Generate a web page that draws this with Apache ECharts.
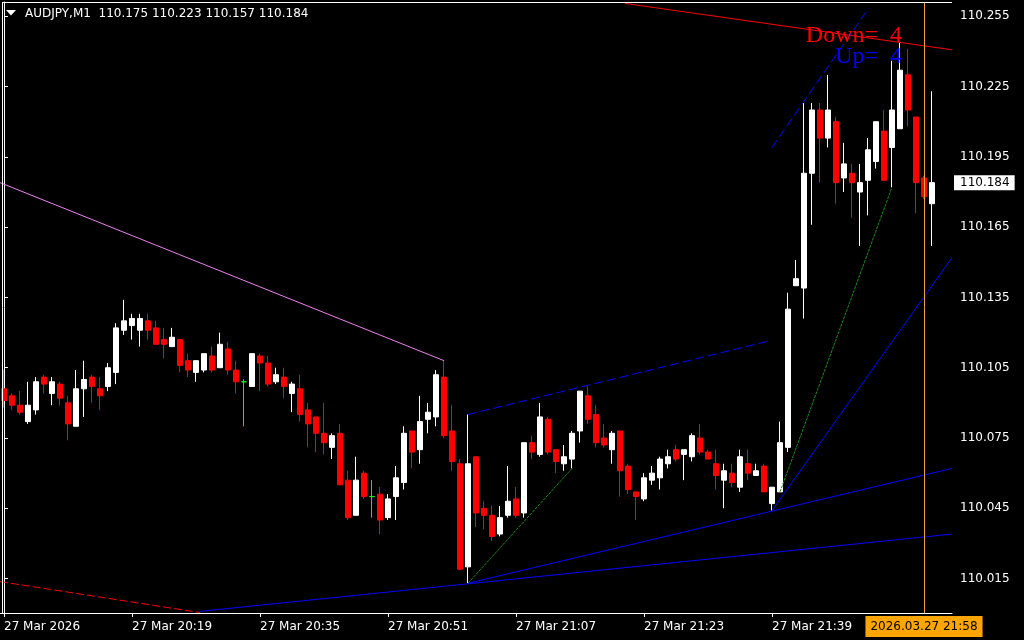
<!DOCTYPE html>
<html>
<head>
<meta charset="utf-8">
<script src="https://cdn.jsdelivr.net/npm/echarts@6/dist/echarts.min.js"></script>
<style>
html,body{margin:0;padding:0;background:#000;}
#chart{width:1024px;height:640px;}
</style>
</head>
<body>
<div id="chart"></div>
<script>
// ---------- data ----------
const symbolName = 'AUDJPY,M1';
const startMinute = 20 * 60 + 3;   // first bar 20:03
const slotCount = 119;             // bars + empty right margin

const opens = [
 110.096,110.093,110.089,110.082,110.087,110.101,110.094,110.098,110.090,110.080,
 110.096,110.101,110.096,110.097,110.103,110.121,110.123,110.121,110.125,110.122,
 110.117,110.114,110.117,110.108,110.103,110.104,110.110,110.105,110.113,110.104,
 110.099,110.097,110.110,110.107,110.099,110.101,110.094,110.096,110.087,110.084,
 110.077,110.071,110.077,110.057,110.042,110.060,110.050,110.051,110.041,110.050,
 110.056,110.078,110.070,110.083,110.084,110.101,110.078,110.064,110.020,110.067,
 110.045,110.042,110.034,110.042,110.049,110.043,110.073,110.068,110.083,110.070,
 110.064,110.066,110.078,110.093,110.085,110.075,110.070,110.078,110.063,110.052,
 110.049,110.057,110.058,110.064,110.070,110.068,110.067,110.075,110.069,110.064,
 110.057,110.060,110.054,110.064,110.059,110.063,110.047,110.052,110.071,110.140,
 110.139,110.188,110.215,110.203,110.210,110.186,110.188,110.180,110.185,110.193,
 110.206,110.199,110.207,110.230,110.212,110.186,110.175
];
const closes = [
 110.091,110.089,110.086,110.089,110.099,110.098,110.099,110.092,110.081,110.096,
 110.100,110.097,110.093,110.105,110.122,110.125,110.126,110.126,110.121,110.115,
 110.115,110.118,110.106,110.104,110.108,110.111,110.104,110.115,110.104,110.099,
 110.099,110.111,110.107,110.098,110.102,110.097,110.098,110.085,110.081,110.077,
 110.073,110.076,110.055,110.041,110.057,110.050,110.050,110.040,110.049,110.058,
 110.077,110.069,110.082,110.086,110.102,110.076,110.065,110.019,110.064,110.043,
 110.042,110.033,110.041,110.048,110.042,110.073,110.069,110.084,110.069,110.065,
 110.067,110.077,110.095,110.083,110.073,110.072,110.077,110.061,110.053,110.050,
 110.058,110.060,110.066,110.067,110.066,110.070,110.076,110.069,110.066,110.059,
 110.061,110.056,110.067,110.060,110.061,110.052,110.054,110.073,110.130,110.143,
 110.188,110.215,110.203,110.215,110.184,110.192,110.184,110.184,110.198,110.210,
 110.185,110.215,110.232,110.215,110.184,110.178,110.184
];
const lows = [
 110.088,110.087,110.085,110.081,110.085,110.094,110.089,110.089,110.074,110.080,
 110.084,110.090,110.087,110.095,110.098,110.119,110.117,110.114,110.117,110.115,
 110.109,110.114,110.103,110.101,110.099,110.103,110.103,110.105,110.102,110.094,
 110.080,110.097,110.095,110.097,110.098,110.092,110.086,110.082,110.071,110.069,
 110.068,110.066,110.055,110.040,110.042,110.049,110.041,110.034,110.040,110.040,
 110.053,110.062,110.064,110.077,110.080,110.075,110.061,110.019,110.013,110.037,
 110.036,110.031,110.033,110.041,110.041,110.041,110.066,110.067,110.068,110.060,
 110.061,110.062,110.073,110.081,110.071,110.071,110.064,110.050,110.051,110.040,
 110.048,110.055,110.053,110.062,110.065,110.057,110.065,110.068,110.066,110.053,
 110.045,110.054,110.052,110.057,110.059,110.052,110.044,110.052,110.069,110.140,
 110.126,110.166,110.184,110.199,110.175,110.180,110.169,110.157,110.170,110.190,
 110.185,110.182,110.207,110.208,110.171,110.177,110.157
];
const highs = [
 110.104,110.094,110.095,110.099,110.101,110.102,110.101,110.099,110.093,110.104,
 110.108,110.102,110.101,110.107,110.124,110.134,110.128,110.128,110.128,110.125,
 110.122,110.122,110.117,110.111,110.108,110.111,110.114,110.120,110.116,110.108,
 110.100,110.111,110.111,110.110,110.105,110.105,110.099,110.102,110.090,110.084,
 110.090,110.077,110.081,110.061,110.067,110.061,110.057,110.054,110.051,110.063,
 110.080,110.078,110.093,110.090,110.104,110.108,110.089,110.066,110.085,110.067,
 110.048,110.046,110.046,110.063,110.054,110.073,110.076,110.090,110.084,110.070,
 110.072,110.078,110.095,110.097,110.089,110.081,110.078,110.078,110.064,110.052,
 110.060,110.063,110.067,110.070,110.072,110.070,110.077,110.081,110.070,110.070,
 110.064,110.064,110.070,110.070,110.064,110.064,110.054,110.082,110.137,110.151,
 110.218,110.218,110.218,110.230,110.212,110.201,110.192,110.192,110.203,110.210,
 110.215,110.236,110.244,110.241,110.212,110.187,110.223
];

// time axis tick labels (bar index -> text)
const timeTickIdx = [0, 16, 32, 48, 64, 80, 96];
const timeTickLabels = ['27 Mar 2026','27 Mar 20:19','27 Mar 20:35','27 Mar 20:51','27 Mar 21:07','27 Mar 21:23','27 Mar 21:39'];
// price axis tick labels
const priceTicks = [110.015,110.045,110.075,110.105,110.135,110.165,110.195,110.225,110.255];
const priceMin = 110.0003, priceMax = 110.2611;

// vertical line object
const vlineIdx = 115;
const vlineLabel = '2026.03.27 21:58';

// indicator counters
const downCount = 4, upCount = 4;

// trend lines: [bar index, price]
const trendPink     = [[-0.5, 110.184], [55, 110.108]];
const trendRedTop   = [[77.6, 110.2605], [118.5, 110.2407]];
const trendRedLow   = [[-0.5, 110.0137], [24.5, 110.0005]];
const fanLow        = [[24.5, 110.001], [118.5, 110.034]];
const fanMid        = [[58, 110.013], [118.5, 110.062]];
const fanSteep      = [[96, 110.044], [118.5, 110.152]];
const channelMid    = [[58, 110.085], [95.75, 110.1165]];
const channelSteep  = [[96, 110.199], [108, 110.258]];
const greenA        = [[58, 110.013], [71, 110.062]];
const greenB        = [[97, 110.052], [111, 110.182]];

// ---------- build ----------
const categories = [];
for (let i = 0; i < slotCount; i++) {
  const m = startMinute + i;
  categories.push(String(Math.floor(m / 60)).padStart(2, '0') + ':' + String(m % 60).padStart(2, '0'));
}
const candleData = opens.map((o, i) => [o, closes[i], lows[i], highs[i]]);
const last = opens.length - 1;
const lastClose = closes[last];
const FONT = 'DejaVu Sans';
const headerText = symbolName + '  ' + opens[last].toFixed(3) + ' ' + highs[last].toFixed(3) + ' ' +
  lows[last].toFixed(3) + ' ' + closes[last].toFixed(3);

function lineSeries(data, color, type) {
  return {
    type: 'line', xAxisIndex: 1, yAxisIndex: 0, data: data,
    symbol: 'none', silent: true, animation: false, clip: true, z: 3,
    lineStyle: { color: color, width: 1, type: type || 'solid' }
  };
}

const chart = echarts.init(document.getElementById('chart'), null, { renderer: 'canvas' });
const option = {
  backgroundColor: '#000000',
  animation: false,
  grid: { left: 0, right: 72, top: 2, bottom: 27, show: false },
  xAxis: [
    {
      type: 'category', data: categories, boundaryGap: true,
      axisLine: { show: true, lineStyle: { color: '#ffffff', width: 1 } },
      axisTick: { show: true, alignWithLabel: true, length: 4,
        interval: (i) => timeTickIdx.includes(i), lineStyle: { color: '#ffffff' } },
      axisLabel: {
        show: true, interval: (i) => timeTickIdx.includes(i),
        formatter: (v, i) => { const k = timeTickIdx.indexOf(i); return k >= 0 ? timeTickLabels[k] : ''; },
        align: 'left', color: '#ffffff', fontFamily: FONT, fontSize: 12, margin: 8
      },
      splitLine: { show: false }
    },
    { type: 'value', min: -0.5, max: slotCount - 0.5, show: false }
  ],
  yAxis: {
    type: 'value', position: 'right', min: priceMin, max: priceMax,
    axisLine: { show: true, lineStyle: { color: '#ffffff', width: 1 } },
    axisTick: { show: true, customValues: priceTicks, length: 4, lineStyle: { color: '#ffffff' } },
    axisLabel: {
      show: true, customValues: priceTicks.concat([lastClose]),
      formatter: (v) => (Math.abs(v - lastClose) < 1e-9 ? '{cur|' + v.toFixed(3) + '}' : '{n|' + v.toFixed(3) + '}'),
      color: '#ffffff', fontFamily: FONT, fontSize: 12, margin: 2,
      rich: {
        n: { color: '#ffffff', fontFamily: FONT, fontSize: 12, padding: [0, 0, 0, 6] },
        cur: { color: '#000000', backgroundColor: '#ffffff', fontFamily: FONT, fontSize: 12, padding: [2, 5, 1, 6] }
      }
    },
    splitLine: { show: false }
  },
  series: [
    {
      type: 'candlestick', xAxisIndex: 0, yAxisIndex: 0, data: candleData,
      barWidth: 5, z: 2,
      itemStyle: {
        color: '#ffffff', color0: '#ff0000',
        borderColor: '#ffffff', borderColor0: '#ff0000', borderColorDoji: '#00ff00',
        borderWidth: 1
      },
      markLine: {
        silent: true, animation: false, symbol: ['none', 'none'],
        lineStyle: { color: '#e8a33a', width: 1, type: 'solid' },
        label: {
          show: true, position: 'start', formatter: vlineLabel, distance: 3,
          backgroundColor: '#ffa500', color: '#000000', padding: [5, 5, 4, 5],
          fontFamily: FONT, fontSize: 12
        },
        data: [{ xAxis: categories[vlineIdx] }]
      }
    },
    lineSeries(trendPink, '#ee82ee'),
    lineSeries(trendRedTop, '#ff0000'),
    lineSeries(trendRedLow, '#ff0000', [8, 3]),
    lineSeries(fanLow, '#0000ff'),
    lineSeries(fanMid, '#0000ff'),
    lineSeries(fanSteep, '#0000ff'),
    lineSeries(channelMid, '#0000ff', [9, 4]),
    lineSeries(channelSteep, '#0000ff', [9, 4]),
    lineSeries(greenA, '#1e8c1e', [3, 1]),
    lineSeries(greenB, '#1e8c1e', [3, 1])
  ],
  graphic: [
    { type: 'line', silent: true, z: 10, shape: { x1: 2.5, y1: 2, x2: 2.5, y2: 613 }, style: { stroke: '#ffffff', lineWidth: 1 } },
    { type: 'line', silent: true, z: 10, shape: { x1: 2, y1: 2.5, x2: 952, y2: 2.5 }, style: { stroke: '#ffffff', lineWidth: 1 } },
    { type: 'polygon', silent: true, z: 10, shape: { points: [[6, 10], [16, 10], [11, 15.5]] }, style: { fill: '#ffffff' } },
    { type: 'text', silent: true, z: 10, style: { x: 25, y: 14, text: headerText, fill: '#ffffff',
        font: '12px "DejaVu Sans"', align: 'left', verticalAlign: 'middle' } },
    { type: 'text', silent: true, z: 11, style: { x: 902, y: 36, text: 'Down=  ' + downCount, fill: '#ff0000',
        font: '24px "Liberation Serif"', align: 'right', verticalAlign: 'middle' } },
    { type: 'text', silent: true, z: 11, style: { x: 902, y: 57, text: 'Up=  ' + upCount, fill: '#0000ff',
        font: '24px "Liberation Serif"', align: 'right', verticalAlign: 'middle' } }
  ]
};
chart.setOption(option);
</script>
</body>
</html>
